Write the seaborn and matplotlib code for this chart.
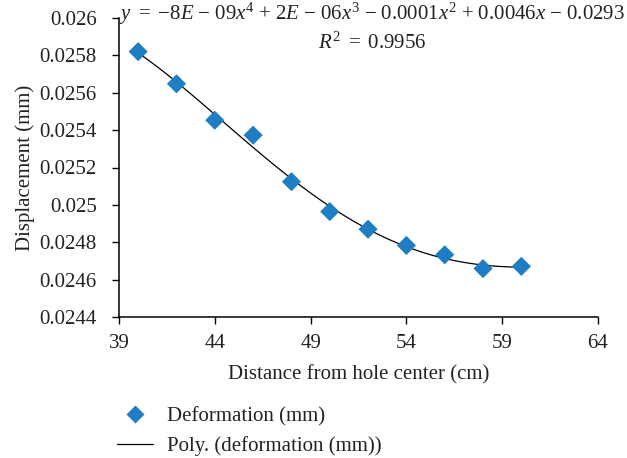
import numpy as np
import pandas as pd
import matplotlib
matplotlib.use("Agg")
import matplotlib.pyplot as plt
from matplotlib.ticker import FuncFormatter, FixedLocator
from matplotlib.lines import Line2D
import seaborn as sns

# Measured displacement versus distance from the hole centre
distance_cm = [40, 42, 44, 46, 48, 50, 52, 54, 56, 58, 60]
deformation_mm = [0.02582, 0.025648, 0.025453, 0.025373, 0.025124, 0.024964,
                  0.02487, 0.024783, 0.024733, 0.024659, 0.024671]

x_ticks = [39, 44, 49, 54, 59, 64]
y_ticks = [0.0244, 0.0246, 0.0248, 0.025, 0.0252, 0.0254, 0.0256, 0.0258, 0.026]

equation_text = (r"$y\ =\ {-}8E\ {-}\ 09x^4\ {+}\ 2E\ {-}\ 06x^3\ {-}\ 0.0001x^2"
                 r"\ {+}\ 0.0046x\ {-}\ 0.0293$")
r2_text = r"$R^2\ =\ 0.9956$"

df = pd.DataFrame({"distance": distance_cm, "deformation": deformation_mm})

sns.set_theme(style="white")
plt.rcParams["font.family"] = ["Liberation Serif", "DejaVu Serif"]
plt.rcParams["mathtext.fontset"] = "custom"
plt.rcParams["mathtext.rm"] = "Liberation Serif"
plt.rcParams["mathtext.it"] = "Liberation Serif:italic"
plt.rcParams["mathtext.bf"] = "Liberation Serif:bold"

FS = 15
BLUE = "#1f7dc3"
TXT = "#222222"

fig = plt.figure(figsize=(6.27, 4.58), dpi=100)
ax = fig.add_axes([119 / 627, 1 - 317 / 458, (598 - 119) / 627, (317 - 18) / 458])

# 4th-order polynomial trendline
sns.regplot(data=df, x="distance", y="deformation", order=4, ci=None,
            scatter=False, ax=ax, line_kws=dict(color="black", lw=0.9))
sns.scatterplot(data=df, x="distance", y="deformation", ax=ax, marker="D",
                s=95, color=BLUE, edgecolor="none", zorder=3)

ax.set_xlim(39, 64)
ax.set_ylim(0.0244, 0.026)
ax.xaxis.set_major_locator(FixedLocator(x_ticks))
ax.yaxis.set_major_locator(FixedLocator(y_ticks))


def fmt(v, _pos):
    return f"{round(v, 6):.4f}".rstrip("0").rstrip(".")


ax.yaxis.set_major_formatter(FuncFormatter(fmt))

for side in ["top", "right"]:
    ax.spines[side].set_visible(False)
for side in ["left", "bottom"]:
    ax.spines[side].set_color("black")
    ax.spines[side].set_linewidth(1.1)

ax.tick_params(axis="both", which="major", direction="out", length=5,
               width=1.0, color="black", labelsize=FS, labelcolor=TXT,
               left=True, bottom=True)
ax.tick_params(axis="y", pad=11)
ax.tick_params(axis="x", pad=7)

ax.set_xlabel("Distance from hole center (cm)", fontsize=FS, color=TXT,
              labelpad=9)
ax.set_ylabel("Displacement (mm)", fontsize=FS, color=TXT, labelpad=3)

fig.text(372 / 627, 1 - 14 / 458, equation_text, ha="center", va="center",
         fontsize=FS, color=TXT)
fig.text(372 / 627, 1 - 43 / 458, r2_text, ha="center", va="center",
         fontsize=FS, color=TXT)

handles = [
    Line2D([], [], linestyle="none", marker="D", markersize=9.5,
           markerfacecolor=BLUE, markeredgecolor="none"),
    Line2D([], [], color="black", lw=0.9),
]
labels = ["Deformation (mm)", "Poly. (deformation (mm))"]
fig.legend(handles, labels, loc="upper left",
           bbox_to_anchor=(117 / 627, 1 - 407 / 458), frameon=False,
           fontsize=FS, handlelength=1.75, handletextpad=0.65,
           labelspacing=0.45, borderpad=0, borderaxespad=0,
           labelcolor=TXT)

fig.savefig("out.png", dpi=100)
